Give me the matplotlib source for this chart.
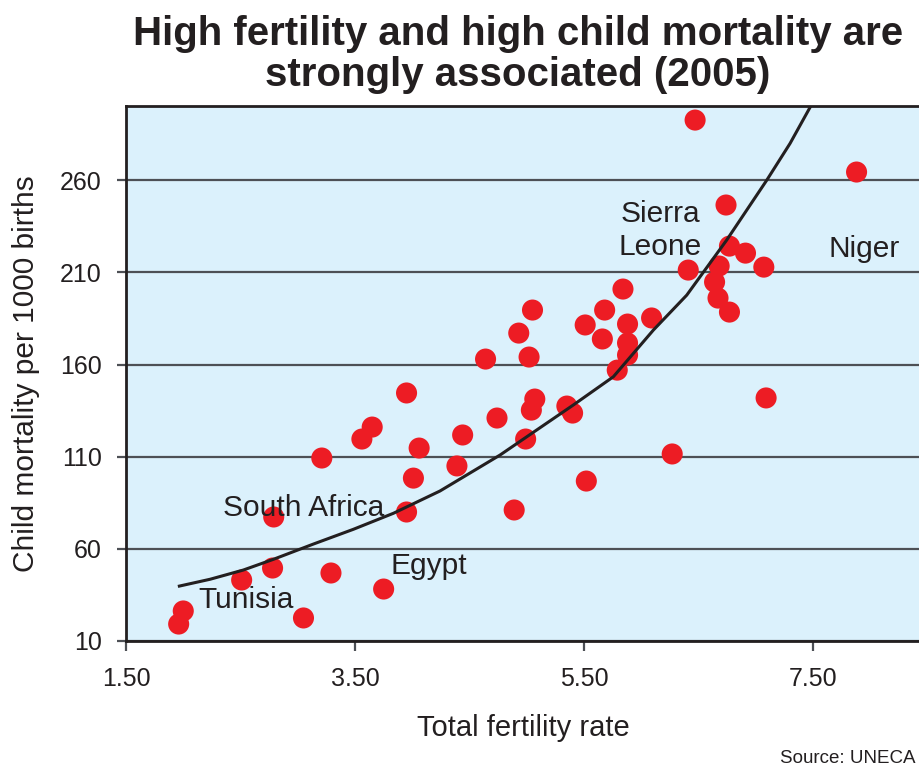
import matplotlib
matplotlib.use('Agg')
import matplotlib.pyplot as plt

plt.rcParams['font.family'] = ['Liberation Sans', 'DejaVu Sans']

# total fertility rate vs child mortality, 2005
fertility = [6.47, 7.88, 6.74, 6.77, 6.91, 7.07, 6.68, 6.41, 6.64, 6.67, 6.77,
             5.84, 5.05, 5.68, 5.51, 5.88, 6.09, 4.93, 5.66, 5.88, 5.88, 5.02,
             4.64, 5.79, 5.07, 5.04, 5.35, 5.40, 4.74, 4.44, 4.99, 4.39, 5.52,
             4.89, 6.27, 7.09, 3.95, 3.65, 3.56, 3.21, 4.06, 4.01, 3.95, 2.79,
             2.78, 2.51, 3.29, 3.75, 3.05, 2.00, 1.96]
mortality = [292.7, 264.5, 246.6, 224.3, 220.5, 212.9, 213.5, 211.3, 204.8, 196.1, 188.5,
             201.0, 189.6, 189.6, 181.5, 182.0, 185.3, 177.1, 173.9, 171.7, 165.2, 164.1,
             163.0, 157.0, 141.3, 135.3, 137.5, 133.7, 131.0, 121.8, 119.6, 105.0, 96.8,
             81.1, 111.5, 141.9, 144.6, 126.1, 119.6, 109.3, 114.7, 98.4, 80.0, 77.3,
             49.6, 43.1, 46.9, 38.2, 22.5, 26.3, 19.2]

# fitted curve
fit_x = [1.966, 2.234, 2.524, 2.786, 3.136, 3.485, 3.835, 4.242, 4.766,
         5.407, 5.756, 6.105, 6.397, 6.746, 7.096, 7.299, 7.480]
fit_y = [39.8, 43.5, 48.5, 54.3, 62.6, 70.6, 79.3, 91.4, 110.9,
         138.1, 153.4, 178.7, 197.7, 227.6, 260.1, 280.0, 300.3]

xticks = [1.5, 3.5, 5.5, 7.5]
xticklabels = ['1.50', '3.50', '5.50', '7.50']
yticks = [10, 60, 110, 160, 210, 260]

txt = '#231f20'

fig = plt.figure(figsize=(9.2, 7.67), dpi=100)
ax = fig.add_axes([126/920, 1-641/767, 1-126/920, (641-105.7)/767])
ax.set_facecolor('#dbf1fc')

ax.scatter(fertility, mortality, s=230, color='#ed1c24', edgecolors='none', zorder=3)
ax.plot(fit_x, fit_y, color='#231f20', lw=2.2, zorder=4)

ax.set_xlim(1.5, 8.434)
ax.set_ylim(10, 300.5)
ax.set_xticks(xticks)
ax.set_xticklabels(xticklabels)
ax.set_yticks(yticks)

ax.yaxis.grid(True, color='#4d5055', lw=1.6)
ax.set_axisbelow(True)
for s in ['left', 'bottom', 'top']:
    ax.spines[s].set_color('#231f20')
    ax.spines[s].set_linewidth(2)
ax.spines['right'].set_visible(False)

ax.tick_params(axis='x', direction='out', length=7, width=1.6, colors='#4d5055',
               labelcolor=txt, labelsize=18, pad=12)
ax.tick_params(axis='y', direction='out', length=6.5, width=1.6, colors='#4d5055',
               labelcolor=txt, labelsize=18, pad=11)

ax.set_xlabel('Total fertility rate', fontsize=21, color=txt, labelpad=16)
ax.set_ylabel('Child mortality per 1000 births', fontsize=21.5, color=txt, labelpad=14)

# country labels
lab = dict(fontsize=21.5, color=txt, va='baseline')
ax.text(2.347, 78.0, 'South Africa', ha='left', **lab)
ax.text(3.806, 46.2, 'Egypt', ha='left', **lab)
ax.text(2.129, 27.7, 'Tunisia', ha='left', **lab)
ax.text(7.631, 218.5, 'Niger', ha='left', **lab)
ax.text(6.168, 237.5, 'Sierra', ha='center', **lab)
ax.text(6.168, 219.4, 'Leone', ha='center', **lab)

fig.text(0.563, 1-45/767, 'High fertility and high child mortality are',
         ha='center', va='baseline', fontsize=29, fontweight='bold', color=txt)
fig.text(0.563, 1-86/767, 'strongly associated (2005)',
         ha='center', va='baseline', fontsize=29, fontweight='bold', color=txt)

fig.text(0.995, 1-763/767, 'Source: UNECA', ha='right', va='baseline',
         fontsize=13.5, color=txt)

fig.savefig('out.png', dpi=100)
